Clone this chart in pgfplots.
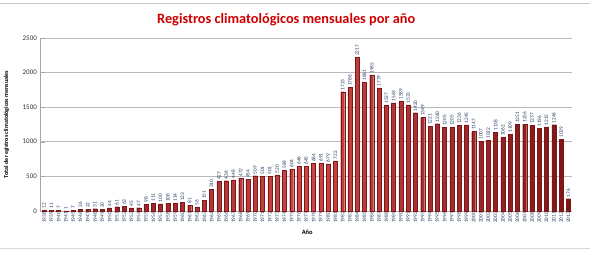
\documentclass[border=0pt]{standalone}
\usepackage{pgfplots}
\usepackage{pgfplotstable}
\pgfplotsset{compat=1.18}
\usepackage{fontspec}
\setmainfont{Carlito}
\definecolor{lbl}{RGB}{40,60,100}
\definecolor{bardark}{RGB}{125,22,22}
\definecolor{barlight}{RGB}{205,70,70}
\definecolor{titred}{RGB}{204,0,0}
\pgfplotstableread{
x y year
0 12 1938
1 11 1939
2 7 1940
3 1 1941
4 7 1945
5 26 1946
6 22 1947
7 31 1948
8 20 1949
9 44 1950
10 61 1951
11 63 1952
12 45 1953
13 47 1954
14 98 1955
15 111 1956
16 100 1957
17 108 1958
18 114 1959
19 123 1960
20 81 1961
21 56 1962
22 151 1963
23 310 1964
24 427 1965
25 436 1966
26 448 1967
27 472 1968
28 454 1969
29 509 1970
30 501 1971
31 501 1972
32 520 1973
33 589 1974
34 604 1975
35 646 1976
36 645 1977
37 684 1978
38 691 1979
39 679 1980
40 722 1981
41 1723 1982
42 1786 1983
43 2217 1984
44 1861 1985
45 1965 1986
46 1779 1987
47 1527 1988
48 1563 1989
49 1589 1990
50 1533 1991
51 1420 1992
52 1349 1993
53 1221 1994
54 1260 1995
55 1205 1996
56 1205 1997
57 1236 1998
58 1245 1999
59 1147 2000
60 1007 2001
61 1022 2002
62 1138 2003
63 1062 2004
64 1109 2005
65 1251 2006
66 1256 2007
67 1237 2008
68 1196 2009
69 1215 2010
70 1246 2011
71 1039 2012
72 176 2013
}\data
\begin{document}
\begin{tikzpicture}
\begin{axis}[
  at={(0,0)}, anchor=south west,
  scale only axis, width=532pt, height=173pt,
  xmin=-0.5, xmax=72.5, ymin=0, ymax=2500,
  ytick={0,500,1000,1500,2000,2500},
  ymajorgrids, grid style={gray!55, line width=0.6pt},
  axis x line*=bottom, axis y line*=left,
  axis line style={gray!70},
  xtick=data, xticklabels from table={\data}{year},
  x tick label style={rotate=90, anchor=east, font=\fontsize{5.3}{6}\selectfont, text=lbl, inner sep=1pt},
  xtick style={draw=none},
  ytick style={gray!70},
  y tick label style={font=\fontsize{7}{8}\selectfont, text=black!80},
  /pgf/number format/assume math mode=true,
  /pgf/number format/1000 sep={},
  ylabel={Total de registros climatológicos mensuales},
  ylabel style={font=\bfseries\fontsize{6}{7}\selectfont, at={(axis description cs:-0.052,0.5)}},
  xlabel={Año},
  xlabel style={font=\bfseries\fontsize{6.5}{7}\selectfont, at={(axis description cs:0.502,-0.125)}, anchor=center},
  clip=false,
]
\addplot[ybar, bar width=4pt, draw=bardark, line width=0.2pt,
  left color=bardark, right color=bardark, middle color=barlight,
  nodes near coords,
  every node near coord/.append style={rotate=90, anchor=west, font=\fontsize{5.3}{6}\selectfont, text=lbl, inner sep=1.5pt}]
  table[x=x,y=y]{\data};
\end{axis}
\node[font=\bfseries\fontsize{14.3}{16}\selectfont, text=titred] at (246pt,191pt) {Registros climatológicos mensuales por año};
\draw[gray!45, line width=0.8pt] (-40pt,208pt) -- (550pt,208pt);
\draw[gray!30, line width=0.8pt] (-40pt,-38pt) -- (550pt,-38pt);
\path[use as bounding box] (-40pt,-44pt) rectangle (556pt,211pt);
\end{tikzpicture}
\end{document}
